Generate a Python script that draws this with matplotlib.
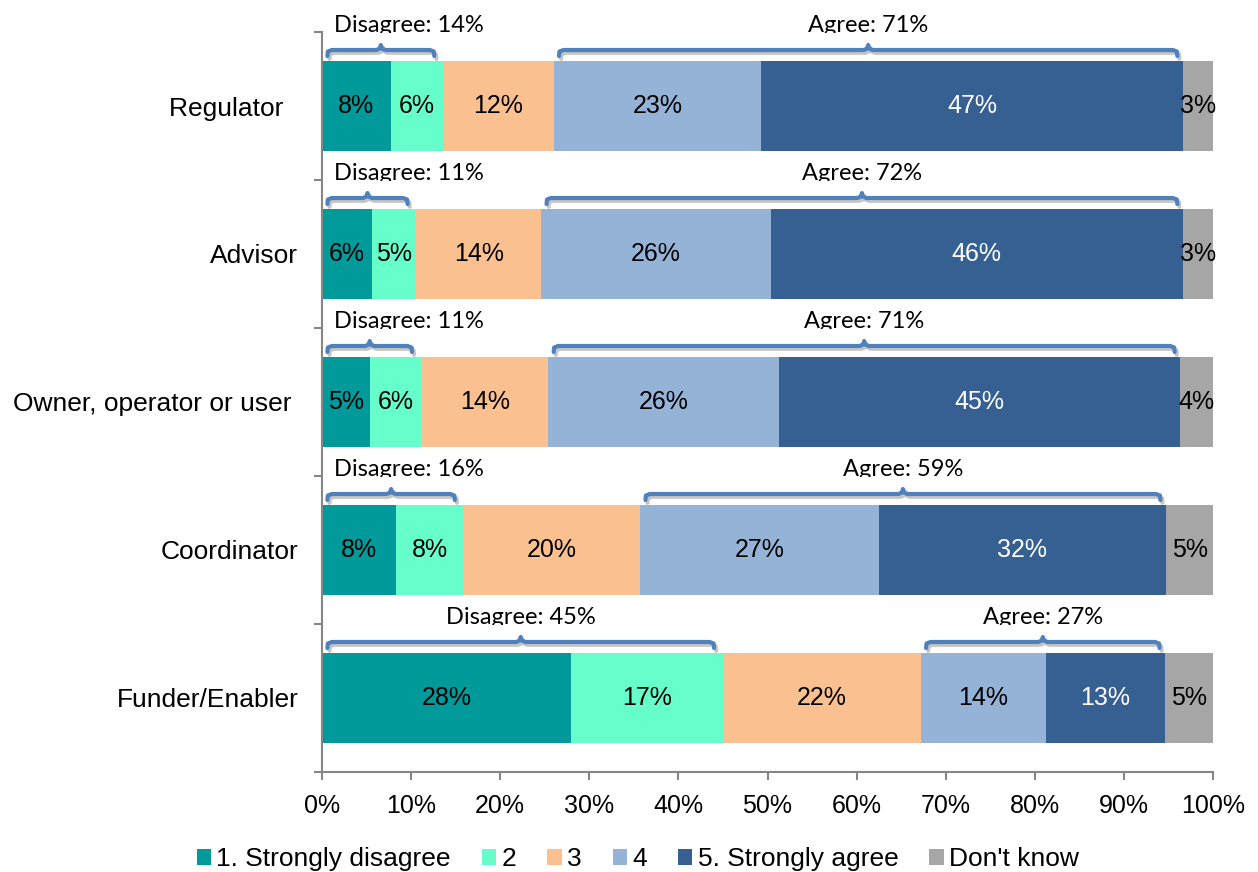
import matplotlib
matplotlib.use('Agg')
import matplotlib.pyplot as plt
import matplotlib.patheffects as pe
from matplotlib.patches import Patch, Rectangle
import numpy as np

# data ------------------------------------------------------------
categories = ['Regulator  ', 'Advisor', 'Owner, operator or user ',
              'Coordinator', 'Funder/Enabler']
series = ['1. Strongly disagree', '2', '3', '4', '5. Strongly agree',
          "Don't know"]

strongly_disagree = [7.7, 5.6, 5.4, 8.3, 27.9]
disagree_2 = [5.9, 5.0, 5.7, 7.6, 17.1]
neutral_3 = [12.4, 14.0, 14.3, 19.8, 22.2]
agree_4 = [23.3, 25.8, 25.9, 26.8, 14.1]
strongly_agree = [47.3, 46.2, 45.0, 32.2, 13.3]
dont_know = [3.4, 3.4, 3.7, 5.4, 5.4]

disagree_total = [14, 11, 11, 16, 45]
agree_total = [71, 72, 71, 59, 27]

colors = ['#009a9a', '#66ffcc', '#fac090', '#95b3d7', '#376092', '#a6a6a6']
label_colors = ['black', 'black', 'black', 'black', 'white', 'black']
bracket_color = '#4f81bd'

# figure ------------------------------------------------------------
plt.rcParams['font.family'] = ['Liberation Sans', 'DejaVu Sans']

fig = plt.figure(figsize=(12.58, 8.72), dpi=100)
ax = fig.add_axes([0.256, 0.1147, 0.7082, 0.8486])

values = np.array([strongly_disagree, disagree_2, neutral_3, agree_4,
                   strongly_agree, dont_know])
y = np.arange(len(categories))
bar_h = 0.608
left = np.zeros(len(categories))
for k in range(len(series)):
    ax.barh(y, values[k], left=left, height=bar_h, color=colors[k],
            edgecolor='none', label=series[k])
    for i in range(len(categories)):
        ax.text(left[i] + values[k][i] / 2, y[i], f'{values[k][i]:.0f}%',
                ha='center', va='center', fontsize=18,
                color=label_colors[k])
    left += values[k]

ax.set_xlim(0, 100)
ax.set_ylim(len(categories) - 0.5, -0.5)

px = 1 / 148.0  # one pixel in y data units
shadow = [pe.SimpleLineShadow(offset=(1.5, -2), shadow_color='gray',
                              alpha=0.45), pe.Normal()]


def bracket(x0, x1, yb, text, text_x):
    xc = (x0 + x1) / 2
    xs = [x0, x0 + 0.05, x0 + 0.5, xc - 0.5, xc - 0.12, xc, xc + 0.12,
          xc + 0.5, x1 - 0.5, x1 - 0.05, x1]
    ys = [yb + 6 * px, yb + 1.5 * px, yb, yb, yb - 1.5 * px, yb - 5 * px,
          yb - 1.5 * px, yb, yb, yb + 1.5 * px, yb + 6 * px]
    ax.plot(xs, ys, color=bracket_color, lw=3, solid_capstyle='round',
            solid_joinstyle='round', path_effects=shadow, clip_on=False,
            zorder=5)
    base = yb - 18 * px
    ax.text(text_x, base, text, ha='center', va='baseline', fontsize=17,
            family=['Lato', 'DejaVu Sans'], clip_on=False, zorder=3)
    # the text boxes are cut just under the baseline
    xl = max(text_x - 10, 0.3)
    ax.add_patch(Rectangle((xl, base + 1 * px), text_x + 10 - xl, 8 * px,
                           facecolor='white', edgecolor='none',
                           clip_on=False, zorder=4))


for i in range(len(categories)):
    yb = y[i] - bar_h / 2 - 11 * px
    d_end = strongly_disagree[i] + disagree_2[i]
    x0, x1 = 0.6, d_end - 1.0
    bracket(x0, x1, yb, f'Disagree: {disagree_total[i]}%',
            max((x0 + x1) / 2, 9.7))
    a_start = d_end + neutral_3[i]
    a_end = a_start + agree_4[i] + strongly_agree[i]
    x0, x1 = a_start + 0.6, a_end - 0.6
    bracket(x0, x1, yb, f'Agree: {agree_total[i]}%', (x0 + x1) / 2)

# axes styling
for s in ['top', 'right']:
    ax.spines[s].set_visible(False)
for s in ['left', 'bottom']:
    ax.spines[s].set_color('#868686')
    ax.spines[s].set_linewidth(1.5)

ax.set_xticks(np.arange(0, 101, 10))
ax.set_xticklabels([f'{v}%' for v in range(0, 101, 10)])
ax.tick_params(axis='x', direction='out', length=6, width=1.5,
               color='#868686', labelsize=18, pad=10)
ax.set_yticks(y)
ax.set_yticklabels(categories)
ax.tick_params(axis='y', which='major', length=0, labelsize=19, pad=17)
ax.set_yticks(np.arange(-0.5, len(categories)), minor=True)
ax.tick_params(axis='y', which='minor', direction='out', length=6,
               width=1.5, color='#868686')

handles = [Patch(facecolor=c, edgecolor='none') for c in colors]
fig.legend(handles, series, loc='center', bbox_to_anchor=(0.507, 0.015),
           ncol=6, frameon=False, fontsize=19, handlelength=0.55,
           handleheight=0.55, handletextpad=0.2, columnspacing=1.17,
           borderaxespad=0)

fig.savefig('out.png', dpi=100)
